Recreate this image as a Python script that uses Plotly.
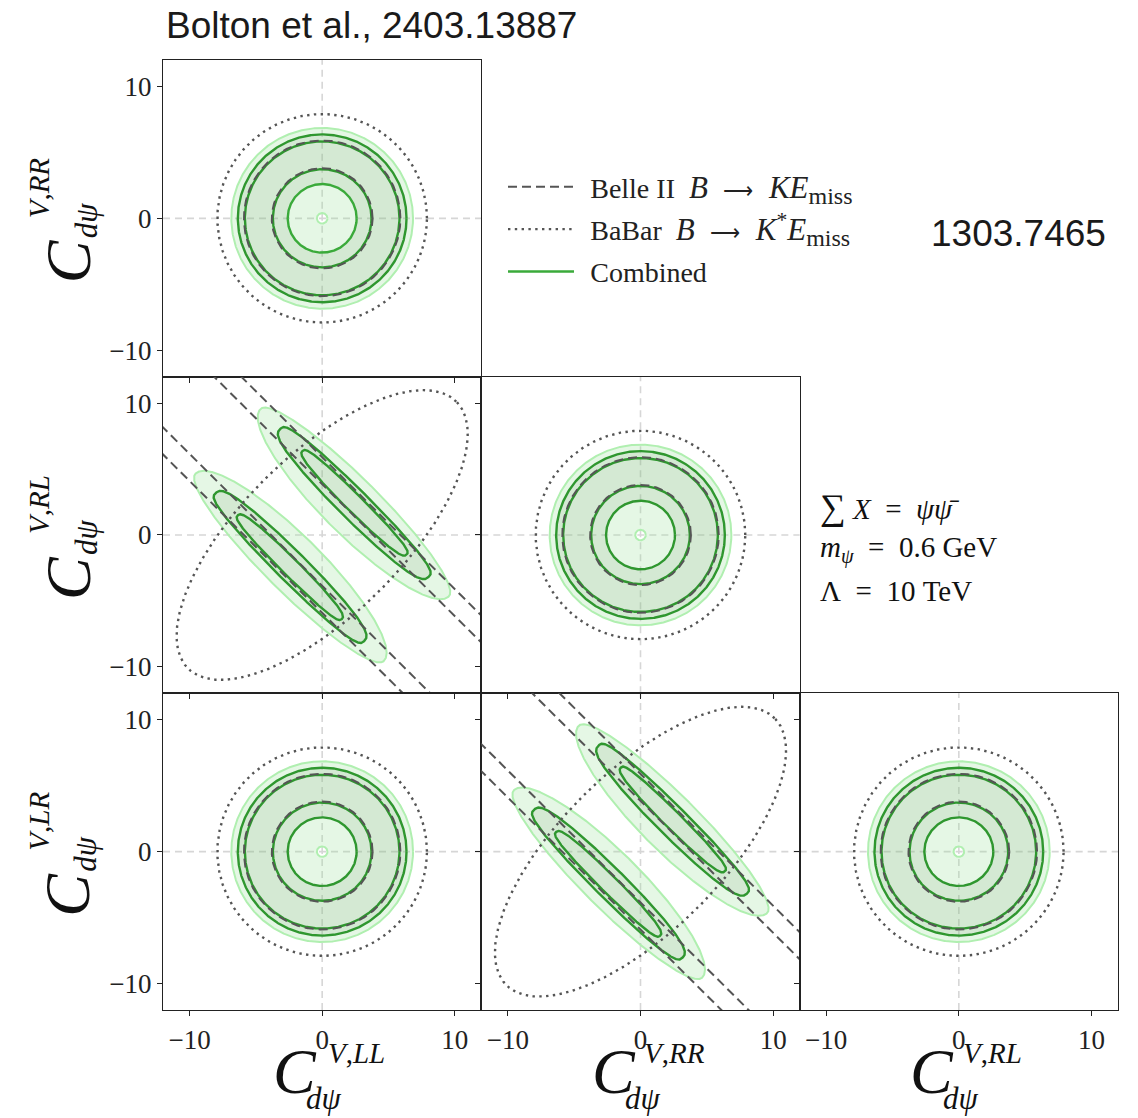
import numpy as np
import plotly.graph_objects as go
from plotly.subplots import make_subplots

# ---------------------------------------------------------------- figure size
W, H = 1138, 1118
ML, MR, MT, MB = 163, 20, 60, 108

# ---------------------------------------------------------------- axes
AX_RANGE = [-12, 12]
TICK_VALS = [-10, 0, 10]
TICK_TEXT = ["−10", "0", "10"]
X_OPERATORS = ["LL", "RR", "RL"]          # bottom axis labels (columns)
Y_OPERATORS = ["RR", "RL", "LR"]          # left axis labels (rows)

# (row, col, panel kind) of the lower-triangular corner plot
PANELS = [(1, 1, "circle"), (2, 1, "band"), (2, 2, "circle"),
          (3, 1, "circle"), (3, 2, "band"), (3, 3, "circle")]

# ---------------------------------------------------------------- constraints
# radially symmetric panels: radii of the contours
BELLE_RADII = [3.8, 5.9]                 # Belle II 1 sigma band
BABAR_RADIUS = 7.9                       # BaBar upper limit
COMB_1SIG_RADII = [3.72, 5.83]           # combined, inner contour pair
COMB_2SIG_RADII = [2.6, 6.36]            # combined, outer contour pair
COMB_3SIG_RADII = [0.4, 6.85]            # combined, outermost (filled) region

# correlated panels: Belle II fixes the sum x + y, BaBar an ellipse
BELLE_SUMS = [3.85, 5.9]                 # |x + y| band edges
BABAR_SEMI_AXES = [14.3, 6.05]           # along x = y, along x = -y
BAND_CENTER_SUM = 4.9                    # combined island centre in x + y
# (reach below centre in x+y, reach above centre in x+y,
#  half length in x-y, flatness exponent of the sides)
COMB_BAND_3SIG = [3.5, 2.5, 14.2, 2.0]
COMB_BAND_2SIG = [1.8, 1.4, 11.2, 3.0]
COMB_BAND_1SIG = [1.0, 0.85, 7.85, 3.0]

# ---------------------------------------------------------------- styles
C_GREEN = "#2f972f"
C_LEGEND_GREEN = "#3aaa3a"
C_LIGHT_EDGE = "#b0efb0"
C_LIGHT_FILL = "rgba(150,225,150,0.25)"
C_MID_FILL = "rgba(100,140,90,0.13)"
C_GREY = "#555555"
C_ZERO = "#d6d6d6"
SERIF = "Liberation Serif"
SANS = "Liberation Sans"

THETA = np.linspace(0.0, 2.0 * np.pi, 721)


def circle(r, reverse=False):
    th = THETA[::-1] if reverse else THETA
    return r * np.cos(th), r * np.sin(th)


def annulus(r_in, r_out):
    """Closed outline of a ring: outer loop then inner loop reversed."""
    xo, yo = circle(r_out)
    xi, yi = circle(r_in, reverse=True)
    return np.concatenate([xo, xi, xo[:1]]), np.concatenate([yo, yi, yo[:1]])


def band_island(sign, reach_lo, reach_hi, half_l, power):
    """Island elongated along x - y, centred on x + y = sign * centre."""
    c, s = np.cos(THETA), np.sin(THETA)
    reach = np.where(c >= 0, reach_hi, reach_lo)
    ss = BAND_CENTER_SUM + reach * np.sign(c) * np.abs(c) ** (2.0 / power)
    tt = half_l * s
    return sign * (ss + tt) / 2.0, sign * (ss - tt) / 2.0


def babar_ellipse():
    u = BABAR_SEMI_AXES[0] * np.cos(THETA)
    v = BABAR_SEMI_AXES[1] * np.sin(THETA)
    return (u - v) / np.sqrt(2.0), (u + v) / np.sqrt(2.0)


fig = make_subplots(rows=3, cols=3, horizontal_spacing=0, vertical_spacing=0)

# legend labels
TS = "\u2009"
EN = "\u2002"
ARROW = '<span style="font-size:21px">⟶</span>'


def math(txt):
    return f'<span style="font-size:31px">{txt}</span>'


def sub(txt):
    return f'<sub><span style="font-size:24px">{txt}</span></sub>'


legend_done = set()
LINE_STYLES = {
    "belle": dict(color=C_GREY, width=2.0, dash="9px,5px"),
    "babar": dict(color=C_GREY, width=2.4, dash="2.4px,4.4px"),
    "comb": dict(color=C_GREEN, width=2.4),
    "edge": dict(color=C_LIGHT_EDGE, width=2.0),
}
LEGEND_NAMES = {
    "belle": TS + TS + "Belle II" + EN
    + math("<i>B</i>" + EN) + ARROW + math(EN + "<i>KE</i>") + sub("miss"),
    "babar": TS + TS + "BaBar" + EN
    + math("<i>B</i>" + EN) + ARROW
    + math(EN + "<i>K</i><sup>*</sup><i>E</i>") + sub("miss"),
    "comb": TS + TS + "Combined",
}
LEGEND_RANK = {"belle": 1, "babar": 2, "comb": 3}


def add(x, y, row, col, **kw):
    fig.add_trace(go.Scatter(x=x, y=y, mode="lines", hoverinfo="skip",
                             **kw), row=row, col=col)


def fill(x, y, row, col, color):
    add(x, y, row, col, fill="toself", fillcolor=color,
        line=dict(width=0), showlegend=False)


def line(x, y, row, col, kind):
    show = kind in LEGEND_NAMES and kind not in legend_done
    if show:
        legend_done.add(kind)
    kw = dict(line=LINE_STYLES[kind], showlegend=show)
    if kind in LEGEND_NAMES:
        kw.update(name=LEGEND_NAMES[kind], legendgroup=kind,
                  legendrank=LEGEND_RANK[kind])
    add(x, y, row, col, **kw)


for row, col, kind in PANELS:
    if kind == "circle":
        fill(*annulus(*COMB_3SIG_RADII), row, col, C_LIGHT_FILL)
        fill(*annulus(*COMB_2SIG_RADII), row, col, C_MID_FILL)
        for r in COMB_3SIG_RADII:
            line(*circle(r), row, col, "edge")
        for r in COMB_2SIG_RADII + COMB_1SIG_RADII:
            line(*circle(r), row, col, "comb")
        for r in BELLE_RADII:
            line(*circle(r), row, col, "belle")
        line(*circle(BABAR_RADIUS), row, col, "babar")
    else:
        for sgn in (1, -1):
            fill(*band_island(sgn, *COMB_BAND_3SIG), row, col, C_LIGHT_FILL)
            fill(*band_island(sgn, *COMB_BAND_2SIG), row, col, C_MID_FILL)
            line(*band_island(sgn, *COMB_BAND_3SIG), row, col, "edge")
            line(*band_island(sgn, *COMB_BAND_2SIG), row, col, "comb")
            line(*band_island(sgn, *COMB_BAND_1SIG), row, col, "comb")
        for s in BELLE_SUMS:
            for sgn in (1, -1):
                xs = np.array(AX_RANGE) * 1.2
                line(xs, sgn * s - xs, row, col, "belle")
        line(*babar_ellipse(), row, col, "babar")

# the legend samples use a slightly brighter green
for tr in fig.data:
    if tr.legendgroup == "comb" and tr.showlegend:
        tr.line.color = C_LEGEND_GREEN

# ---------------------------------------------------------------- axes styling
used = {(r, c) for r, c, _ in PANELS}
for r in range(1, 4):
    for c in range(1, 4):
        if (r, c) not in used:
            fig.update_xaxes(visible=False, row=r, col=c)
            fig.update_yaxes(visible=False, row=r, col=c)
            continue
        common = dict(range=AX_RANGE, tickvals=TICK_VALS, ticktext=TICK_TEXT,
                      ticks="outside", ticklen=5, tickwidth=1.2,
                      tickcolor="#222", showline=True, mirror=True,
                      linecolor="#222", linewidth=1.3, showgrid=False,
                      zeroline=False,
                      tickfont=dict(family=SERIF, size=27, color="#222"))
        fig.update_xaxes(showticklabels=(r == 3), **common, row=r, col=c)
        fig.update_yaxes(showticklabels=(c == 1), **common, row=r, col=c)
        # dashed reference lines through the origin
        idx = (r - 1) * 3 + c
        xr = "x" if idx == 1 else f"x{idx}"
        yr = "y" if idx == 1 else f"y{idx}"
        fig.add_shape(type="line", xref=xr, yref=f"{yr} domain", x0=0, x1=0,
                      y0=0, y1=1, layer="below",
                      line=dict(color=C_ZERO, width=1.6, dash="7px,5px"))
        fig.add_shape(type="line", xref=f"{xr} domain", yref=yr, x0=0, x1=1,
                      y0=0, y1=0, layer="below",
                      line=dict(color=C_ZERO, width=1.6, dash="7px,5px"))

# ---------------------------------------------------------------- labels
PW = (W - ML - MR) / 3.0
PH = (H - MT - MB) / 3.0


def px_x(px):
    return (px - ML) / (W - ML - MR)


def px_y(py):
    return 1.0 - (py - MT) / (H - MT - MB)


annotations = []


def note(text, x, y, size, family=SERIF, angle=0, xanchor="center",
         yanchor="middle", color="#111"):
    annotations.append(dict(text=text, x=px_x(x), y=px_y(y), xref="paper",
                            yref="paper", showarrow=False, textangle=angle,
                            xanchor=xanchor, yanchor=yanchor,
                            font=dict(family=family, size=size, color=color)))


for i, op in enumerate(X_OPERATORS):
    cx = ML + PW * (i + 0.5)
    note("<i>C</i>", cx - 27, 1071, 64)
    note(f"<i>V</i>,<i>{op}</i>", cx + 34, 1053, 29)
    note("<i>dψ</i>", cx + 2, 1098, 31)

for i, op in enumerate(Y_OPERATORS):
    cy = MT + PH * (i + 0.5)
    note("<i>C</i>", 68, cy + 43, 64, angle=-90)
    note(f"<i>V</i>,<i>{op}</i>", 39, cy - 30, 29, angle=-90)
    note("<i>dψ</i>", 86, cy + 2, 31, angle=-90)

note("Bolton et al., 2403.13887", 164, 26, 37, family=SANS, xanchor="left",
     color="#1a1a1a")
note("1303.7465", 929, 233, 37, family=SANS, xanchor="left", color="#1a1a1a")
note('<span style="font-size:36px">∑</span> <i>X</i>' + EN + "=" + EN
     + "<i>ψψ̄</i>", 818, 507, 29, xanchor="left")
note("<i>m</i><sub><i>ψ</i></sub>" + EN + "=" + EN + "0.6 GeV", 818, 549, 29,
     xanchor="left")
note("Λ" + EN + "=" + EN + "10 TeV", 818, 591, 29, xanchor="left")

fig.update_layout(
    width=W, height=H,
    margin=dict(l=ML, r=MR, t=MT, b=MB),
    plot_bgcolor="white", paper_bgcolor="white",
    annotations=annotations,
    legend=dict(x=px_x(503), y=px_y(162), xanchor="left", yanchor="top",
                font=dict(family=SERIF, size=28, color="#222"),
                bgcolor="rgba(0,0,0,0)", tracegroupgap=3, itemwidth=66,
                traceorder="grouped"),
)

fig.write_html("out.html")
